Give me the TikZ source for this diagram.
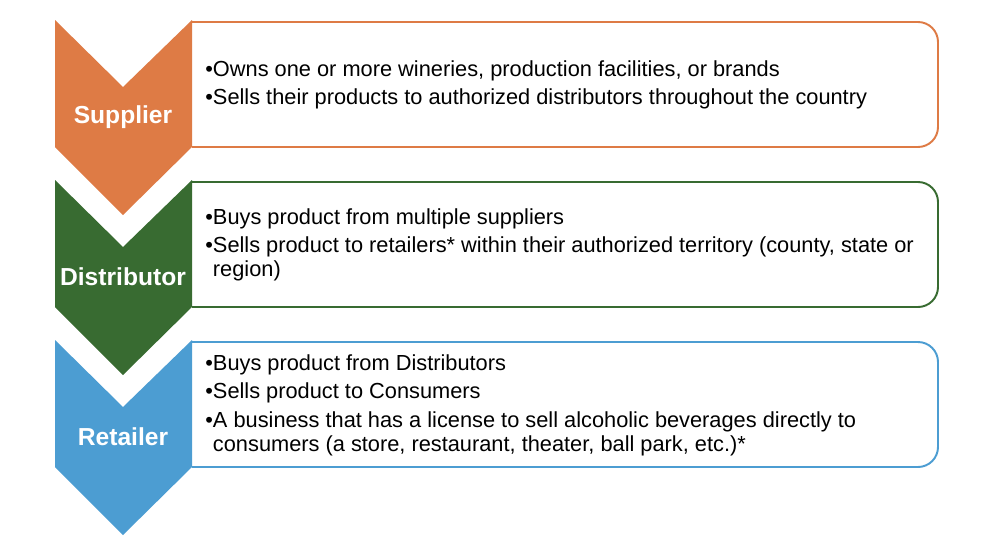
\documentclass[tikz,border=0pt]{standalone}
\usepackage{fontspec}
\setmainfont{Liberation Sans}
\definecolor{suporange}{HTML}{DE7B45}
\definecolor{disgreen}{HTML}{386B31}
\definecolor{retblue}{HTML}{4C9DD2}

\begin{document}
\begin{tikzpicture}[
    tierbox/.style={line width=1.1pt, rounded corners=0.4cm},
    tierlabel/.style={text=white, font=\fontsize{14}{16}\selectfont\bfseries, inner sep=0pt},
    tiertext/.style={anchor=west, align=left, inner sep=0pt, font=\fontsize{12.4}{13.6}\selectfont}
]
    \useasboundingbox (0,0) rectangle (20,-10.88);

    % Supplier
    \draw[tierbox, draw=suporange] (3.84,-0.44) -- (18.76,-0.44) -- (18.76,-2.94) -- (3.84,-2.94);
    \fill[suporange] (1.10,-0.40) -- (2.46,-1.74) -- (3.84,-0.40) -- (3.84,-2.94) -- (2.46,-4.30) -- (1.10,-2.94) -- cycle;
    \node[tierlabel] (sup) at (2.46,-2.34) {Supplier};
    \node[tiertext] (suptext) at (4.10,-1.70) {\textbullet Owns one or more wineries, production facilities, or brands\\[2.6pt]
        \textbullet Sells their products to authorized distributors throughout the country};

    % Distributor
    \draw[tierbox, draw=disgreen] (3.84,-3.64) -- (18.76,-3.64) -- (18.76,-6.14) -- (3.84,-6.14);
    \fill[disgreen] (1.10,-3.60) -- (2.46,-4.94) -- (3.84,-3.60) -- (3.84,-6.14) -- (2.46,-7.50) -- (1.10,-6.14) -- cycle;
    \node[tierlabel] (dis) at (2.46,-5.54) {Distributor};
    \node[tiertext] (distext) at (4.10,-4.90) {\textbullet Buys product from multiple suppliers\\[2.6pt]
        \textbullet Sells product to retailers* within their authorized territory (county, state or\\
        \phantom{\textbullet}region)};

    % Retailer
    \draw[tierbox, draw=retblue] (3.84,-6.84) -- (18.76,-6.84) -- (18.76,-9.34) -- (3.84,-9.34);
    \fill[retblue] (1.10,-6.80) -- (2.46,-8.14) -- (3.84,-6.80) -- (3.84,-9.34) -- (2.46,-10.70) -- (1.10,-9.34) -- cycle;
    \node[tierlabel] (ret) at (2.46,-8.74) {Retailer};
    \node[tiertext] (rettext) at (4.10,-8.10) {\textbullet Buys product from Distributors\\[2.6pt]
        \textbullet Sells product to Consumers\\[2.6pt]
        \textbullet A business that has a license to sell alcoholic beverages directly to\\
        \phantom{\textbullet}consumers (a store, restaurant, theater, ball park, etc.)*};
\end{tikzpicture}
\end{document}
